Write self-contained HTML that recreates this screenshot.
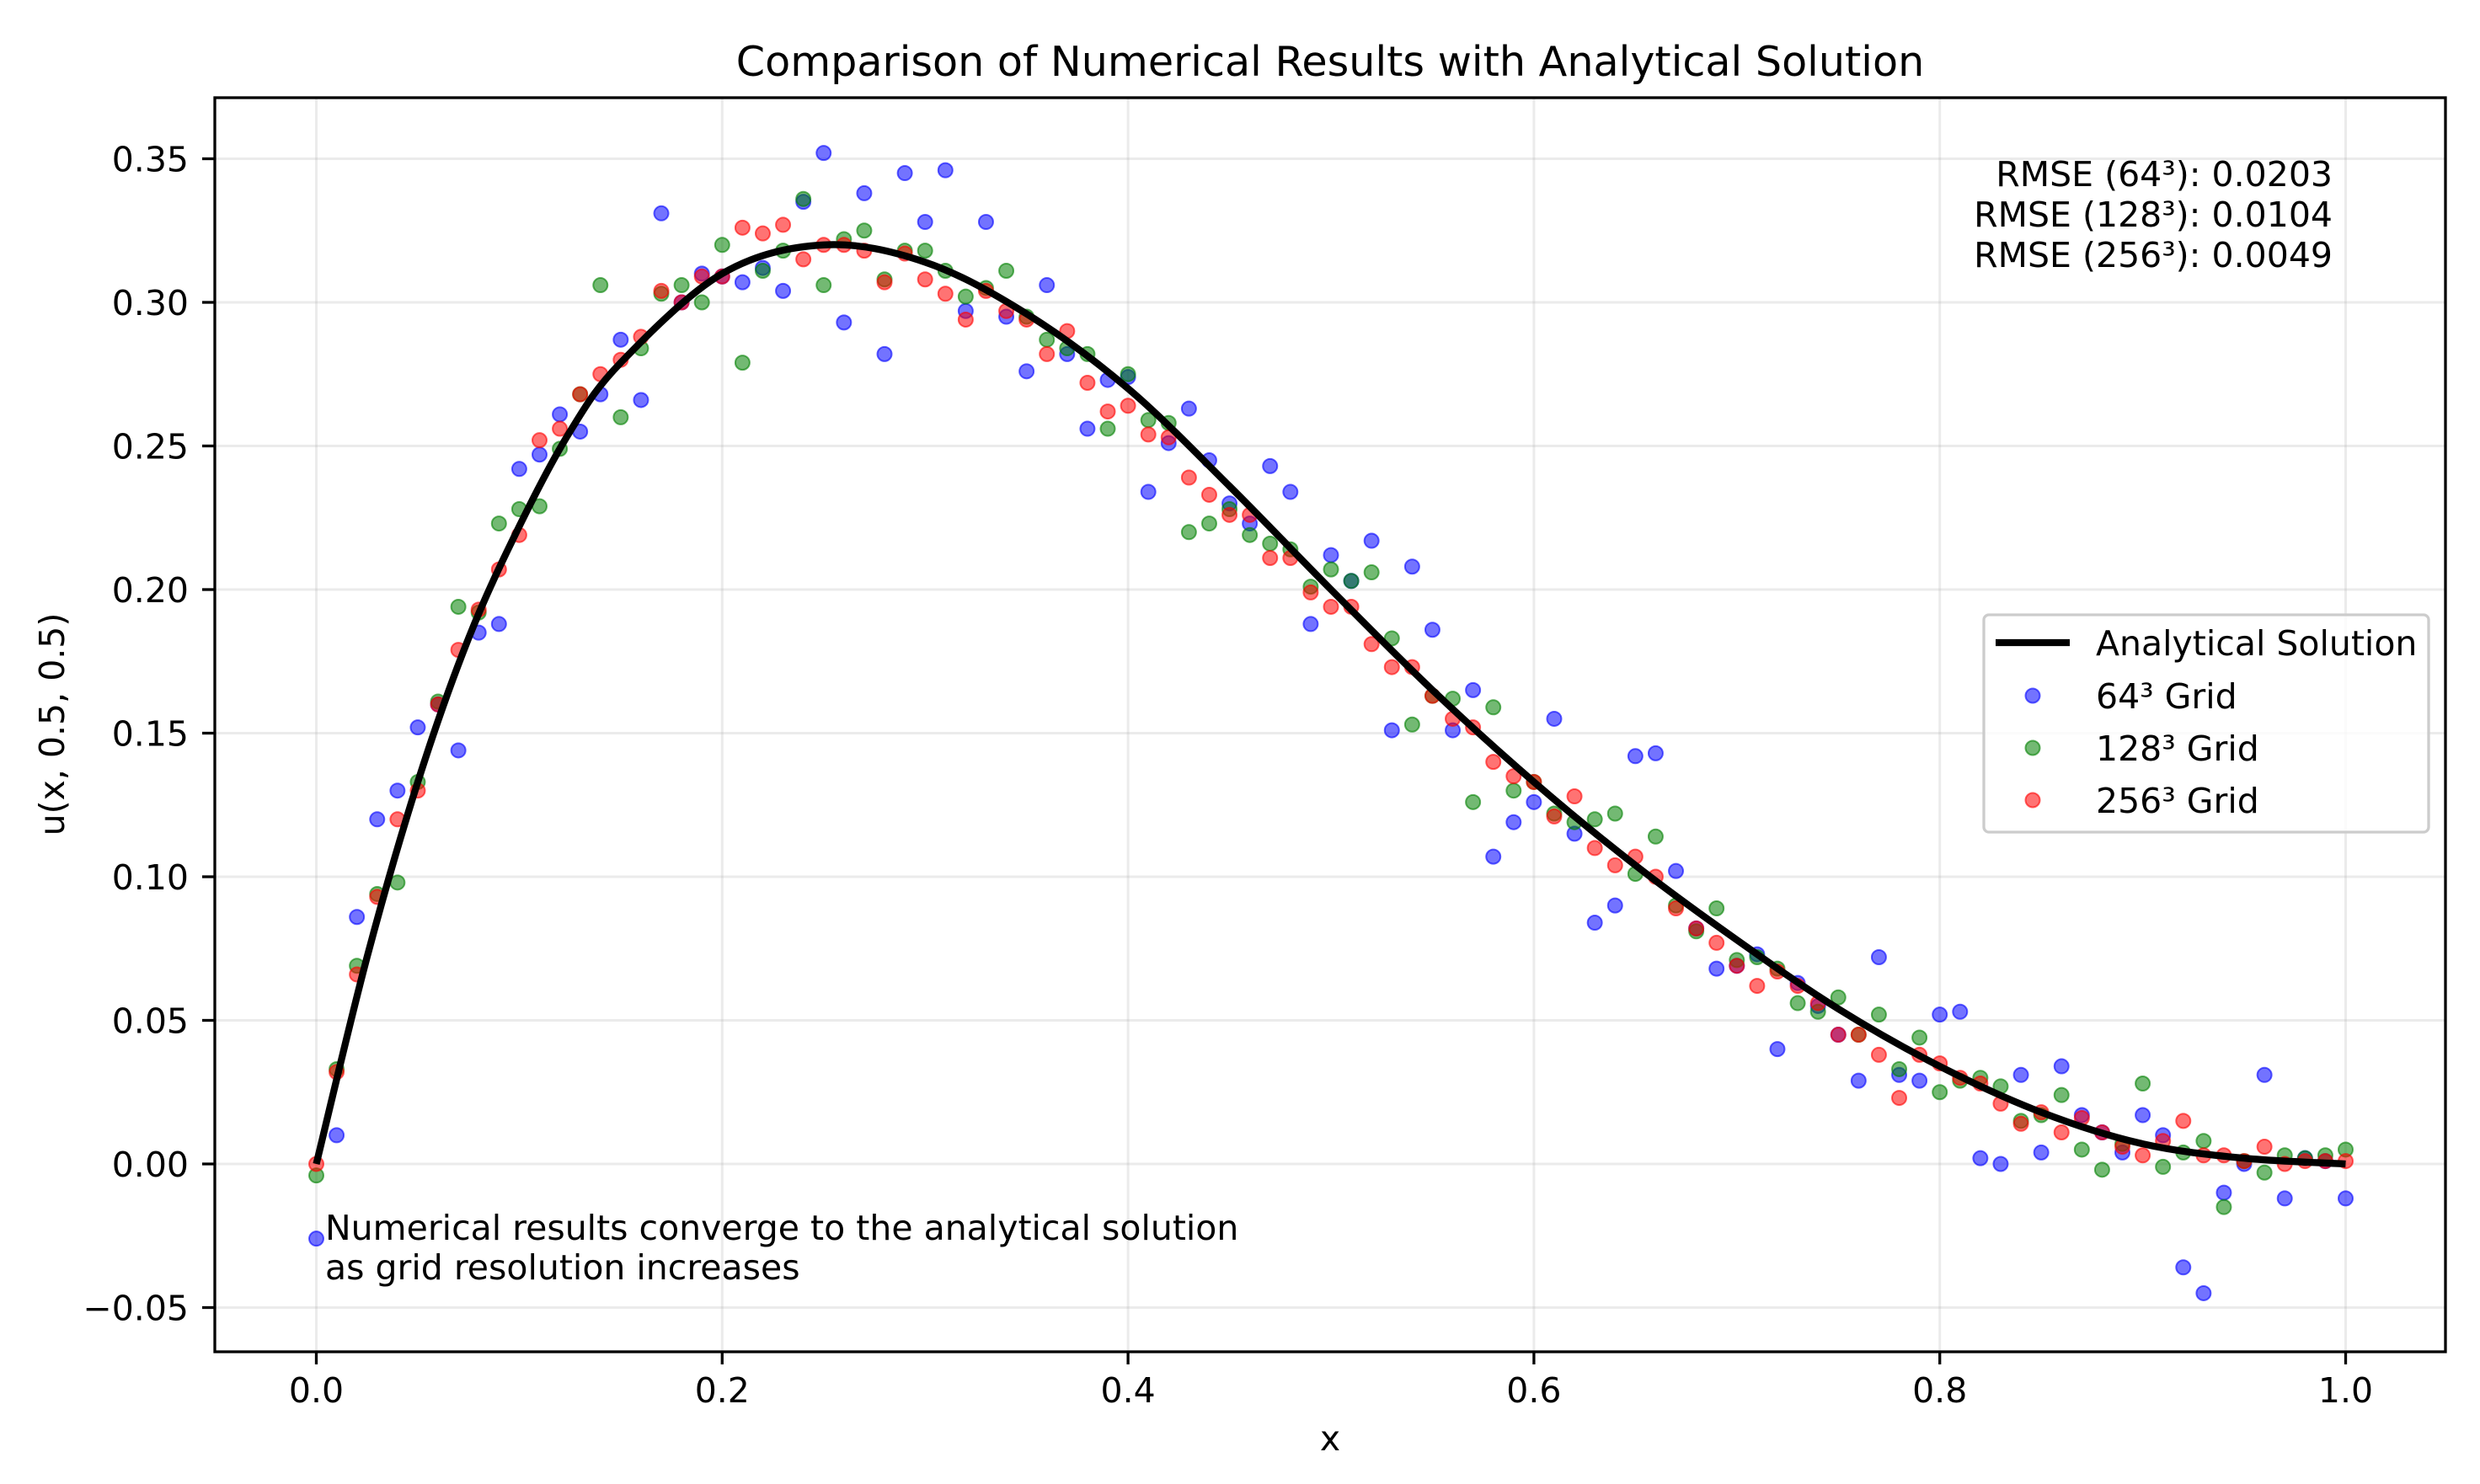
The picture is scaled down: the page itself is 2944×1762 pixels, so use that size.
<!DOCTYPE html>
<html><head><meta charset="utf-8"><style>
html,body{margin:0;padding:0;background:#fff;}
svg text{font-family:"DejaVu Sans","Liberation Sans",sans-serif;fill:#000;}
</style></head><body>
<svg id="chart" width="2944" height="1757" viewBox="0 0 2944 1757" xmlns="http://www.w3.org/2000/svg">
<rect width="2944" height="1757" fill="#fff"/>
<g id="grid"></g>
<g id="marks"></g>
<rect x="255" y="116" width="2648" height="1489" fill="none" stroke="#000" stroke-width="3.3"/>
<g id="ticks"></g>
<text x="1579" y="90" font-size="49.2" text-anchor="middle">Comparison of Numerical Results with Analytical Solution</text>
<text x="1579" y="1722" font-size="41" text-anchor="middle">x</text>
<text transform="translate(76,860) rotate(-90)" font-size="41" text-anchor="middle">u(x, 0.5, 0.5)</text>
<g font-size="41" text-anchor="end">
<text x="2769" y="221">RMSE (64³): 0.0203</text>
<text x="2769" y="269">RMSE (128³): 0.0104</text>
<text x="2769" y="317">RMSE (256³): 0.0049</text>
</g>
<g font-size="41">
<text x="386" y="1472">Numerical results converge to the analytical solution</text>
<text x="386" y="1519">as grid resolution increases</text>
</g>
<g>
<rect x="2355" y="730" width="528" height="258" rx="6" fill="#fff" fill-opacity="0.8" stroke="#ccc" stroke-width="3.3"/>
<line x1="2369" y1="763" x2="2457" y2="763" stroke="#000" stroke-width="8.3"/>
<text x="2488" y="778" font-size="41">Analytical Solution</text>
<circle cx="2413" cy="826" r="8.5" fill="#0000ff" fill-opacity="0.55" stroke="#0000ff" stroke-opacity="0.6" stroke-width="2"/>
<text x="2488" y="841" font-size="41">64³ Grid</text>
<circle cx="2413" cy="888" r="8.5" fill="#008000" fill-opacity="0.55" stroke="#008000" stroke-opacity="0.6" stroke-width="2"/>
<text x="2488" y="903" font-size="41">128³ Grid</text>
<circle cx="2413" cy="950" r="8.5" fill="#ff0000" fill-opacity="0.55" stroke="#ff0000" stroke-opacity="0.6" stroke-width="2"/>
<text x="2488" y="965" font-size="41">256³ Grid</text>
</g>
</svg>
<script>
const xTicks = [0.0, 0.2, 0.4, 0.6, 0.8, 1.0];
const xTickLabels = ["0.0", "0.2", "0.4", "0.6", "0.8", "1.0"];
const yTicks = [-0.05, 0.00, 0.05, 0.10, 0.15, 0.20, 0.25, 0.30, 0.35];
const yTickLabels = ["\u22120.05", "0.00", "0.05", "0.10", "0.15", "0.20", "0.25", "0.30", "0.35"];
const curveX = [0,0.025,0.05,0.075,0.1,0.125,0.15,0.2,0.25,0.3,0.35,0.4,0.45,0.5,0.55,0.6,0.65,0.7,0.75,0.8,0.85,0.9,0.95,1];
const curveY = [0,0.072,0.133,0.183,0.222,0.255,0.279,0.310,0.320,0.314,0.296,0.270,0.236,0.200,0.165,0.133,0.104,0.078,0.054,0.034,0.018,0.007,0.002,0.000];
const grid64 = [-0.026,0.010,0.086,0.120,0.130,0.152,0.160,0.144,0.185,0.188,0.242,0.247,0.261,0.255,0.268,0.287,0.266,0.331,0.300,0.310,0.309,0.307,0.312,0.304,0.335,0.352,0.293,0.338,0.282,0.345,0.328,0.346,0.297,0.328,0.295,0.276,0.306,0.282,0.256,0.273,0.274,0.234,0.251,0.263,0.245,0.230,0.223,0.243,0.234,0.188,0.212,0.203,0.217,0.151,0.208,0.186,0.151,0.165,0.107,0.119,0.126,0.155,0.115,0.084,0.090,0.142,0.143,0.102,0.082,0.068,0.069,0.073,0.040,0.063,0.055,0.045,0.029,0.072,0.031,0.029,0.052,0.053,0.002,0.000,0.031,0.004,0.034,0.017,0.011,0.004,0.017,0.010,-0.036,-0.045,-0.010,0.000,0.031,-0.012,0.002,0.001,-0.012];
const grid128 = [-0.004,0.033,0.069,0.094,0.098,0.133,0.161,0.194,0.192,0.223,0.228,0.229,0.249,0.268,0.306,0.260,0.284,0.303,0.306,0.300,0.320,0.279,0.311,0.318,0.336,0.306,0.322,0.325,0.308,0.318,0.318,0.311,0.302,0.305,0.311,0.295,0.287,0.284,0.282,0.256,0.275,0.259,0.258,0.220,0.223,0.228,0.219,0.216,0.214,0.201,0.207,0.203,0.206,0.183,0.153,0.163,0.162,0.126,0.159,0.130,0.133,0.122,0.119,0.120,0.122,0.101,0.114,0.090,0.081,0.089,0.071,0.072,0.068,0.056,0.053,0.058,0.045,0.052,0.033,0.044,0.025,0.029,0.030,0.027,0.015,0.017,0.024,0.005,-0.002,0.007,0.028,-0.001,0.004,0.008,-0.015,0.001,-0.003,0.003,0.002,0.003,0.005];
const grid256 = [0.000,0.032,0.066,0.093,0.120,0.130,0.160,0.179,0.193,0.207,0.219,0.252,0.256,0.268,0.275,0.280,0.288,0.304,0.300,0.309,0.309,0.326,0.324,0.327,0.315,0.320,0.320,0.318,0.307,0.317,0.308,0.303,0.294,0.304,0.297,0.294,0.282,0.290,0.272,0.262,0.264,0.254,0.253,0.239,0.233,0.226,0.226,0.211,0.211,0.199,0.194,0.194,0.181,0.173,0.173,0.163,0.155,0.152,0.140,0.135,0.133,0.121,0.128,0.110,0.104,0.107,0.100,0.089,0.082,0.077,0.069,0.062,0.067,0.062,0.056,0.045,0.045,0.038,0.023,0.038,0.035,0.030,0.028,0.021,0.014,0.018,0.011,0.016,0.011,0.006,0.003,0.008,0.015,0.003,0.003,0.001,0.006,0.000,0.001,0.001,0.001];

const NS = "http://www.w3.org/2000/svg";
const X0 = 375.5, X1 = 2784.5, Y0 = 1382, YU = 3410;
function sx(v){ return X0 + (X1 - X0) * v; }
function sy(v){ return Y0 - YU * v; }
function mk(tag, attrs, parent){
  const e = document.createElementNS(NS, tag);
  for (const k in attrs) e.setAttribute(k, attrs[k]);
  parent.appendChild(e);
  return e;
}
const gridG = document.getElementById('grid');
const tickG = document.getElementById('ticks');
const marks = document.getElementById('marks');

xTicks.forEach((t, i) => {
  const gl = mk('line', {x1: sx(t), x2: sx(t), y1: 116, y2: 1605, stroke: '#b0b0b0', 'stroke-opacity': 0.25, 'stroke-width': 3}, gridG);
  
  
  const tk = mk('line', {x1: sx(t), x2: sx(t), y1: 1605, y2: 1620, stroke: '#000', 'stroke-width': 3.3}, tickG);
  
  
  const tx = mk('text', {x: sx(t), y: 1665, 'font-size': 41, 'text-anchor': 'middle'}, tickG);
  tx.textContent = xTickLabels[i];
  
  
});
yTicks.forEach((t, i) => {
  const gl = mk('line', {x1: 255, x2: 2903, y1: sy(t), y2: sy(t), stroke: '#b0b0b0', 'stroke-opacity': 0.25, 'stroke-width': 3}, gridG);
  
  
  const tk = mk('line', {x1: 240, x2: 255, y1: sy(t), y2: sy(t), stroke: '#000', 'stroke-width': 3.3}, tickG);
  
  
  const tx = mk('text', {x: 224, y: sy(t) + 15, 'font-size': 41, 'text-anchor': 'end'}, tickG);
  tx.textContent = yTickLabels[i];
  
  
});

function drawSeries(vals, color, name){
  const g = mk('g', {}, marks);
  
  
  vals.forEach((v, i) => {
    const xv = i / 100;
    const c = mk('circle', {cx: sx(xv), cy: sy(v), r: 8.5, fill: color, 'fill-opacity': 0.55, stroke: color, 'stroke-opacity': 0.6, 'stroke-width': 2}, g);
    
    
  });
}
drawSeries(grid64, '#0000ff', 'grid-64');
drawSeries(grid128, '#008000', 'grid-128');
drawSeries(grid256, '#ff0000', 'grid-256');

const pts = curveX.map((x, i) => [sx(x), sy(curveY[i])]);
let d = 'M' + pts[0][0] + ',' + pts[0][1];
for (let i = 0; i < pts.length - 1; i++) {
  const p0 = pts[Math.max(0, i - 1)], p1 = pts[i], p2 = pts[i + 1], p3 = pts[Math.min(pts.length - 1, i + 2)];
  const c1 = [p1[0] + (p2[0] - p0[0]) / 6, p1[1] + (p2[1] - p0[1]) / 6];
  const c2 = [p2[0] - (p3[0] - p1[0]) / 6, p2[1] - (p3[1] - p1[1]) / 6];
  d += ' C' + c1[0] + ',' + c1[1] + ' ' + c2[0] + ',' + c2[1] + ' ' + p2[0] + ',' + p2[1];
}
const curve = mk('path', {d: d, fill: 'none', stroke: '#000', 'stroke-width': 8.3, 'stroke-linejoin': 'round'}, marks);


</script>
</body></html>
